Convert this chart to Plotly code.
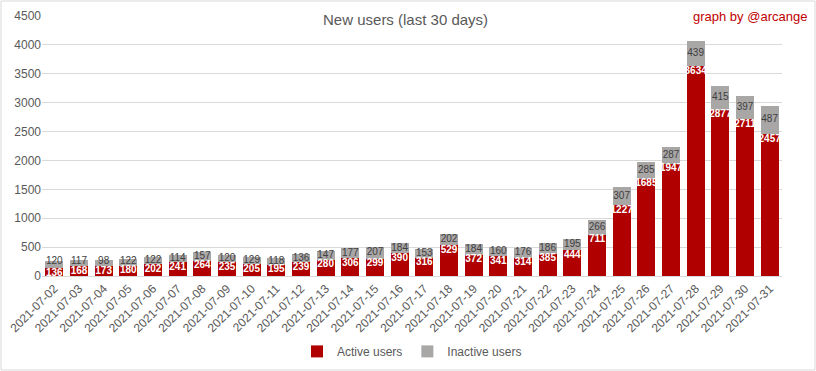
import plotly.graph_objects as go

dates = ["2021-07-%02d" % d for d in range(2, 32)]
active = [136, 168, 173, 180, 202, 241, 264, 235, 205, 195, 239, 280, 306, 299, 390,
          316, 529, 372, 341, 314, 385, 444, 711, 1227, 1685, 1947, 3634, 2877, 2711, 2457]
inactive = [120, 117, 98, 122, 122, 114, 157, 120, 129, 118, 136, 147, 177, 207, 184,
            153, 202, 184, 160, 176, 186, 195, 266, 307, 285, 287, 439, 415, 397, 487]
y_ticks = [0, 500, 1000, 1500, 2000, 2500, 3000, 3500, 4000, 4500]

FONT = "Liberation Sans Narrow, Liberation Sans"

fig = go.Figure()
fig.add_trace(go.Bar(
    x=dates, y=active, name="Active users",
    marker=dict(color="#b00000", line=dict(width=0)),
))
fig.add_trace(go.Bar(
    x=dates, y=inactive, name="Inactive users",
    marker=dict(color="#a9a6a6", line=dict(width=0)),
))
# data labels drawn on top of every bar
fig.add_trace(go.Scatter(
    x=dates, y=[max(a, 100) for a in active], mode="text", showlegend=False, hoverinfo="skip",
    text=[str(v) for v in active], textposition="bottom center",
    textfont=dict(color="white", size=10, family=FONT, weight="bold"), cliponaxis=False,
))
fig.add_trace(go.Scatter(
    x=dates, y=[max(a + i / 2, 250) for a, i in zip(active, inactive)], mode="text",
    showlegend=False, hoverinfo="skip", text=[str(v) for v in inactive],
    textposition="middle center",
    textfont=dict(color="#404040", size=10, family=FONT), cliponaxis=False,
))

fig.update_layout(
    barmode="stack", bargap=0.27,
    width=816, height=371,
    margin=dict(l=42, r=34, t=16, b=95, autoexpand=False),
    paper_bgcolor="white", plot_bgcolor="white",
    font=dict(family=FONT, color="#595959", size=12),
    title=dict(text="New users (last 30 days)", x=0.497, xanchor="center", y=0.948, yanchor="middle",
               font=dict(size=15, color="#595959", family=FONT)),
    showlegend=True,
    legend=dict(orientation="h", x=0.5, xanchor="center", y=-0.29, yanchor="middle",
                font=dict(size=12, color="#595959"), itemwidth=30, traceorder="normal"),
    xaxis=dict(type="category", range=[-0.5, len(dates) - 0.5], tickangle=-45, showline=True,
               linecolor="#d9d9d9", ticks="", automargin=False,
               tickfont=dict(size=12, color="#595959")),
    yaxis=dict(range=[0, 4500], tickvals=y_ticks, showgrid=True, gridcolor="#d9d9d9",
               automargin=False, zeroline=False, showline=False,
               tickfont=dict(size=12, color="#595959")),
)

fig.add_annotation(text="graph by @arcange", xref="paper", yref="paper",
                   x=(809 - 42) / 740, y=1.0, xanchor="right", yanchor="middle", showarrow=False,
                   font=dict(size=13, color="#c00000", family=FONT))

fig.add_shape(type="rect", xref="paper", yref="paper",
              x0=-41 / 740, x1=(816 - 42 - 1) / 740, y0=-94 / 260, y1=(16 - 1) / 260 + 1,
              line=dict(color="#d9d9d9", width=1), layer="below")

fig.write_html("out.html", config={"displayModeBar": False},
               post_script="document.body.style.margin='0px';")
